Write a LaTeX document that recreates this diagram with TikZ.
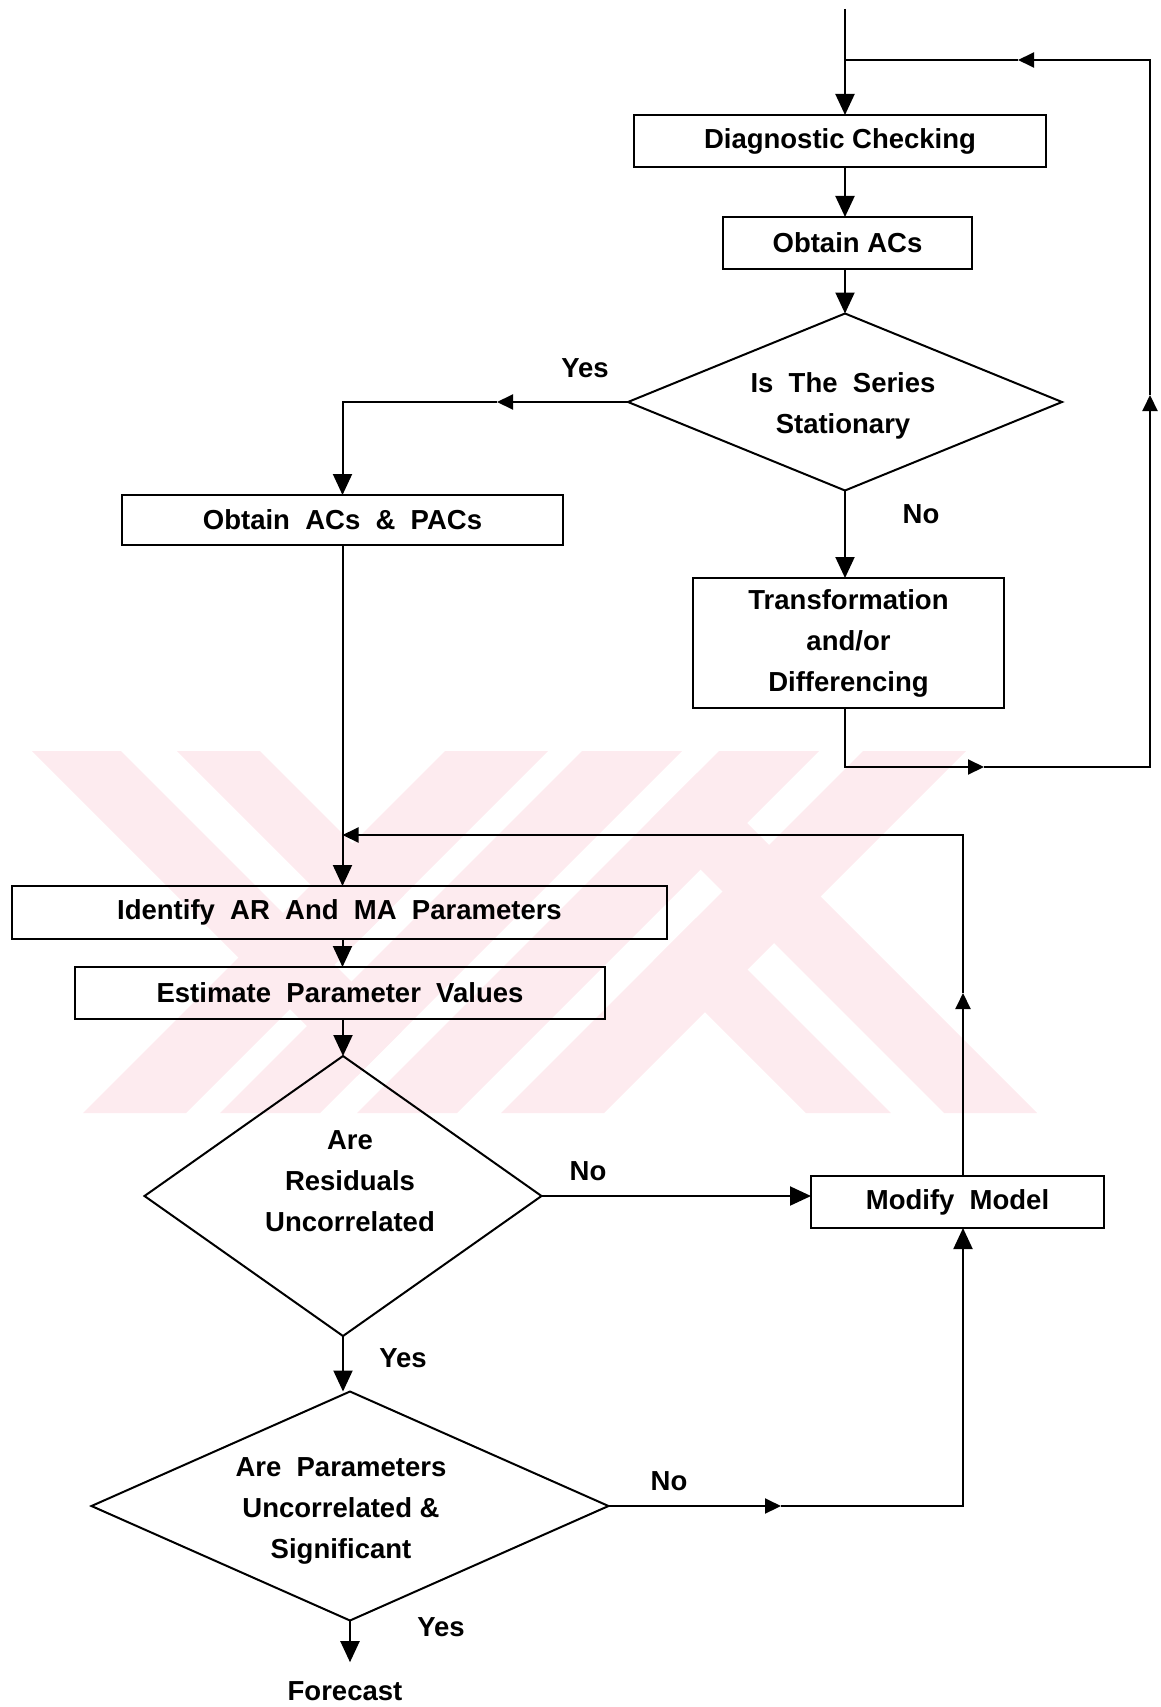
\documentclass[tikz,border=0pt]{standalone}
\usepackage{fontspec}
\usetikzlibrary{arrows.meta,shapes.geometric}
\newfontfamily\lsans{Liberation Sans}
\newcommand\dfont{\lsans\bfseries\fontsize{27.5}{41}\selectfont}
\definecolor{wmpink}{RGB}{253,235,239}
\begin{document}
\begin{tikzpicture}[x=1pt,y=-1pt,
  box/.style={draw, line width=2.3pt, inner sep=0pt, outer sep=0pt, font=\dfont, align=center},
  dia/.style={draw, diamond, line width=2pt, inner sep=0pt, outer sep=0pt},
  lbl/.style={font=\dfont, inner sep=0pt, align=center},
  conn/.style={line width=2pt},
  arr/.style={conn, -{Triangle[length=21pt,width=19pt]}},
  marr/.style={conn, -{Triangle[length=16pt,width=15pt]}}]
\useasboundingbox (0,0) rectangle (1160,1707);
% watermark
\begin{scope}
\clip (30,751) rectangle (1045,1113);
\fill[wmpink] (445,751) -- (548,751) -- (186,1113) -- (83,1113) -- cycle;
\fill[wmpink] (582,751) -- (682,751) -- (320,1113) -- (220,1113) -- cycle;
\fill[wmpink] (719,751) -- (819,751) -- (457,1113) -- (357,1113) -- cycle;
\fill[wmpink] (863,751) -- (966,751) -- (604,1113) -- (501,1113) -- cycle;
\fill[wmpink] (32,751) -- (121,751) -- (401.5,1031.5) -- (357,1076) -- cycle;
\fill[wmpink] (177,751) -- (260,751) -- (404,895) -- (362.5,936.5) -- cycle;
\fill[wmpink] (653.5,960.5) -- (696,918) -- (891,1113) -- (806,1113) -- cycle;
\fill[wmpink] (650.5,819.5) -- (697,773) -- (1037,1113) -- (944,1113) -- cycle;
\end{scope}
% nodes
\node[box, minimum width=412pt, minimum height=52pt] (diag) at (840,141) {Diagnostic Checking};
\node[box, minimum width=249pt, minimum height=52pt] (acs) at (847.5,243) {Obtain ACs};
\node[dia, minimum width=434pt, minimum height=177pt] (stat) at (845,402) {};
\node[lbl] (stattxt) at (843,406) {Is~~The~~Series\\Stationary};
\node[box, minimum width=311pt, minimum height=130pt] (trans) at (848.5,643) {Transformation\\and/or\\Differencing};
\node[box, minimum width=441pt, minimum height=50pt] (pacs) at (342.5,520) {Obtain~~ACs~~\&~~PACs};
\node[box, minimum width=655pt, minimum height=53pt] (ident) at (339.5,912.5) {Identify~~AR~~And~~MA~~Parameters};
\node[box, minimum width=530pt, minimum height=52pt] (est) at (340,993) {Estimate~~Parameter~~Values};
\node[dia, minimum width=397pt, minimum height=280pt] (resid) at (343,1196) {};
\node[lbl] (residtxt) at (350,1181) {Are\\Residuals\\Uncorrelated};
\node[box, minimum width=293pt, minimum height=52pt] (modify) at (957.5,1202) {Modify~~Model};
\node[dia, minimum width=517pt, minimum height=229pt] (param) at (350,1506) {};
\node[lbl] (paramtxt) at (341,1511) {Are~~Parameters\\Uncorrelated \&\\Significant};
\node[lbl] (fc) at (345,1691) {Forecast};
% labels
\node[lbl] (yes1) at (585,368) {Yes};
\node[lbl] (no1) at (921,514) {No};
\node[lbl] (no2) at (588,1171) {No};
\node[lbl] (yes2) at (403,1358) {Yes};
\node[lbl] (no3) at (669,1481) {No};
\node[lbl] (yes3) at (441,1627) {Yes};
% coordinates
\coordinate (start) at (845,9);
\coordinate (j1) at (845,60);
\coordinate (tr) at (1150,60);
\coordinate (br) at (1150,767);
\coordinate (bl) at (845,767);
\coordinate (m1) at (1018,60);
\coordinate (m2) at (1150,395);
\coordinate (m3) at (984,767);
\coordinate (yl) at (342.5,402);
\coordinate (m4) at (497,402);
\coordinate (j2) at (342.5,835);
\coordinate (mr) at (963,835);
\coordinate (m5) at (963,993);
\coordinate (pr) at (963,1506);
\coordinate (m6) at (781,1506);
\coordinate (fcin) at ([yshift=19pt]fc.north);
% connectors, right column
\draw[arr] (start) -- (start |- diag.north);
\draw[arr] (diag.south -| start) -- (acs.north -| start);
\draw[arr] (acs.south -| start) -- (stat.north);
\draw[marr] (stat.west) -- (m4);
\draw[arr] (m4) -- (yl) -- (yl |- pacs.north);
\draw[arr] (stat.south) -- (trans.north -| stat.south);
\draw[marr] (trans.south -| start) -- (bl) -- (m3);
\draw[marr] (m3) -- (br) -- (m2);
\draw[marr] (m2) -- (tr) -- (m1);
\draw[conn] (m1) -- (j1);
% connectors, left column
\draw[arr] (pacs.south) -- (pacs.south |- ident.north);
\draw[arr] (ident.south -| pacs.south) -- (est.north -| pacs.south);
\draw[arr] (est.south -| resid.north) -- (resid.north);
\draw[arr] (resid.east) -- (resid.east -| modify.west);
\draw[arr] (resid.south) -- (resid.south |- param.north);
\draw[marr] (param.east) -- (m6);
\draw[arr] (m6) -- (pr) -- (pr |- modify.south);
\draw[marr] (modify.north -| mr) -- (m5);
\draw[marr] (m5) -- (mr) -- (j2);
\draw[arr] (param.south) -- (param.south |- fcin);
\end{tikzpicture}
\end{document}
